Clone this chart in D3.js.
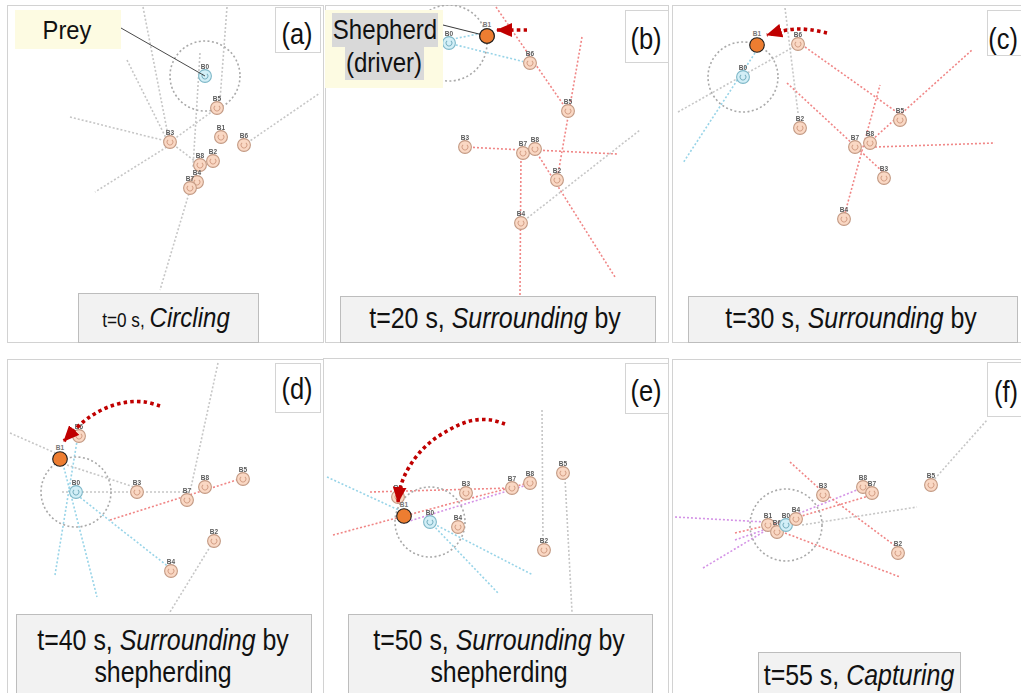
<!DOCTYPE html>
<html>
<head>
<meta charset="utf-8">
<script src="https://cdn.jsdelivr.net/npm/d3@7"></script>
<style>
  html, body { margin: 0; padding: 0; background: #ffffff; }
  svg { display: block; font-family: "Liberation Sans", Arial, sans-serif; }
</style>
</head>
<body>
<svg id="fig" width="1021" height="693"></svg>
<script>
// ---- snapshot metadata -------------------------------------------------
const panelIds = ["a", "b", "c", "d", "e", "f"];
const snapshotTimes = [0, 20, 30, 40, 50, 55];
const phaseNames = ["Circling", "Surrounding", "Surrounding", "Surrounding", "Surrounding", "Capturing"];
const phaseTails = ["", " by", " by", " by", " by", ""];
const phaseSecondLines = ["", "", "", "shepherding", "shepherding", ""];

// ---- robot poses per snapshot: [name, x, y, role] (arena units) -------
const robotsA = [
  ["B0", 198, 71, "prey"],
  ["B5", 210, 103, "hunter"], ["B3", 163, 137, "hunter"], ["B1", 214, 132, "hunter"],
  ["B6", 237, 140, "hunter"], ["B2", 206, 156, "hunter"], ["B8", 193, 160, "hunter"],
  ["B4", 190, 177, "hunter"], ["B7", 183, 183, "hunter"]
];
const robotsB = [
  ["B0", 124, 38, "prey"], ["B1", 162, 31, "shepherd"],
  ["B6", 205, 58, "hunter"], ["B5", 243, 106, "hunter"], ["B3", 140, 142, "hunter"],
  ["B7", 198, 148, "hunter"], ["B8", 210, 144, "hunter"], ["B2", 232, 175, "hunter"],
  ["B4", 196, 218, "hunter"]
];
const robotsC = [
  ["B0", 71, 72, "prey"], ["B1", 85, 40, "shepherd"],
  ["B6", 126, 39, "hunter"], ["B2", 128, 123, "hunter"], ["B5", 228, 115, "hunter"],
  ["B7", 183, 142, "hunter"], ["B8", 198, 138, "hunter"], ["B3", 212, 173, "hunter"],
  ["B4", 172, 214, "hunter"]
];
const robotsD = [
  ["B0", 69, 133, "prey"], ["B1", 53, 100, "shepherd"],
  ["B6", 72, 77, "hunter"], ["B3", 130, 133, "hunter"], ["B7", 180, 141, "hunter"],
  ["B8", 198, 128, "hunter"], ["B5", 236, 120, "hunter"], ["B2", 207, 182, "hunter"],
  ["B4", 164, 212, "hunter"]
];
const robotsE = [
  ["B0", 107, 164, "prey"], ["B6", 75, 139, "hunter"], ["B1", 81, 158, "shepherd"],
  ["B4", 135, 169, "hunter"], ["B3", 143, 135, "hunter"], ["B7", 189, 130, "hunter"],
  ["B8", 207, 125, "hunter"], ["B5", 240, 115, "hunter"], ["B2", 221, 192, "hunter"]
];
const robotsF = [
  ["B1", 96, 166, "hunter"], ["B6", 105, 173, "hunter"], ["B0", 114, 166, "prey"],
  ["B4", 124, 160, "hunter"], ["B3", 151, 136, "hunter"], ["B8", 191, 128, "hunter"],
  ["B7", 200, 134, "hunter"], ["B5", 259, 126, "hunter"], ["B2", 226, 194, "hunter"]
];

// ---- sensing / heading traces: [x1, y1, x2, y2, kind] ------------------
const tracesA = [
  [136, 2, 161, 130, "idle"], [120, 55, 160, 135, "idle"], [63, 112, 163, 137, "idle"],
  [163, 140, 88, 187, "idle"], [220, 2, 213, 95, "idle"], [193, 48, 186, 162, "idle"],
  [183, 185, 153, 285, "idle"], [237, 140, 313, 88, "idle"], [210, 103, 163, 137, "idle"],
  [163, 137, 193, 160, "idle"]
];
const tracesB = [
  [171, 2, 242, 105, "chase"], [257, 32, 232, 175, "chase"], [140, 142, 198, 145, "chase"],
  [210, 145, 292, 149, "chase"], [196, 148, 195, 290, "chase"], [210, 145, 290, 272, "chase"],
  [196, 218, 315, 125, "idle"], [123, 35, 158, 28, "flee"], [123, 38, 200, 57, "flee"]
];
const tracesC = [
  [113, 3, 126, 108, "idle"], [6, 107, 125, 40, "idle"], [83, 48, 11, 158, "flee"],
  [133, 42, 226, 108, "chase"], [200, 135, 300, 45, "chase"], [115, 78, 211, 167, "chase"],
  [203, 142, 323, 138, "chase"], [173, 208, 208, 80, "chase"]
];
const tracesD = [
  [3, 74, 53, 96, "idle"], [211, 4, 183, 133, "idle"], [55, 133, 183, 133, "idle"],
  [60, 106, 130, 129, "idle"], [206, 183, 163, 253, "idle"], [103, 161, 236, 119, "chase"],
  [71, 76, 48, 216, "flee"], [55, 101, 90, 238, "flee"], [70, 136, 163, 209, "flee"]
];
const tracesE = [
  [47, 134, 189, 130, "chase"], [10, 177, 205, 125, "chase"], [80, 165, 204, 127, "capture"],
  [4, 119, 80, 154, "flee"], [107, 164, 210, 217, "flee"], [107, 164, 175, 235, "flee"],
  [219, 52, 220, 187, "idle"], [242, 120, 249, 254, "idle"]
];
const tracesF = [
  [3, 158, 93, 163, "capture"], [31, 209, 98, 169, "capture"], [63, 181, 100, 168, "capture"],
  [123, 156, 190, 129, "capture"], [63, 174, 118, 161, "chase"], [118, 103, 151, 133, "chase"],
  [151, 133, 226, 189, "chase"], [123, 159, 200, 136, "chase"], [113, 174, 228, 218, "chase"],
  [130, 166, 245, 148, "idle"], [260, 123, 315, 61, "idle"]
];

// ---- shepherd manoeuvre paths (arena units), ending at arrow tip -------
const moveB = [[202, 25], [188, 25], [172, 25]];
const moveC = [[155, 28], [140, 25], [125, 24], [110, 26], [95, 30]];
const moveD = [[153, 47], [138, 43], [121, 43], [104, 47], [89, 54], [76, 63], [57, 82]];
const moveE = [[182, 66], [168, 62], [152, 62], [138, 66], [124, 73], [110, 82], [98, 93], [88, 106], [81, 119], [77, 131], [75, 144]];

// prey sensing radius per snapshot (arena units)
const sensingRadius = [35, 38, 35, 35, 35, 36];

const robotsBySnapshot = [robotsA, robotsB, robotsC, robotsD, robotsE, robotsF];
const tracesBySnapshot = [tracesA, tracesB, tracesC, tracesD, tracesE, tracesF];
const movesBySnapshot = [null, moveB, moveC, moveD, moveE, null];

// ---- layout -----------------------------------------------------------
const panelBoxes = [
  { x: 7, y: 5, w: 316, h: 337 }, { x: 325, y: 5, w: 343, h: 337 }, { x: 672, y: 5, w: 352, h: 337 },
  { x: 7, y: 359, w: 316, h: 340 }, { x: 323, y: 358, w: 345, h: 340 }, { x: 672, y: 359, w: 352, h: 340 }
];
const tagBoxes = [
  { x: 275, y: 7, w: 45, h: 45, tx: 297, ty: 44 },
  { x: 625, y: 10, w: 43, h: 52, tx: 646, ty: 49 },
  { x: 987, y: 10, w: 40, h: 45, tx: 1003, ty: 49 },
  { x: 275, y: 363, w: 45, h: 49, tx: 297, ty: 399 },
  { x: 625, y: 363, w: 43, h: 50, tx: 646, ty: 401 },
  { x: 987, y: 362, w: 40, h: 54, tx: 1006, ty: 402 }
];
const captionBoxes = [
  { x: 78, y: 293, w: 180, h: 49, cx: 166, by: 327 },
  { x: 340, y: 296, w: 315, h: 46, cx: 495, by: 328 },
  { x: 688, y: 296, w: 329, h: 46, cx: 851, by: 328 },
  { x: 16, y: 614, w: 295, h: 85, cx: 163, by: 650 },
  { x: 348, y: 614, w: 304, h: 85, cx: 499, by: 650 },
  { x: 758, y: 652, w: 202, h: 45, cx: 859, by: 685 }
];

const traceColor = { idle: "#c6c6c6", chase: "#f08686", flee: "#98d4e8", capture: "#d493e6" };
const squeeze = 0.86;

const svg = d3.select("#fig");
const defs = svg.append("defs");

defs.append("filter").attr("id", "soft")
  .append("feGaussianBlur").attr("stdDeviation", 0.35);

defs.append("marker")
  .attr("id", "head").attr("markerUnits", "userSpaceOnUse")
  .attr("viewBox", "0 0 16 14").attr("markerWidth", 16).attr("markerHeight", 14)
  .attr("refX", 15).attr("refY", 7).attr("orient", "auto")
  .append("path").attr("d", "M0,0 L16,7 L0,14 Z").attr("fill", "#c00000");

const moveLine = d3.line().curve(d3.curveCatmullRom.alpha(0.5));
const ringArc = d3.arc();

panelIds.forEach((id, i) => {
  const box = panelBoxes[i];
  const sx = d3.scaleLinear().domain([0, box.w]).range([box.x, box.x + box.w]);
  const sy = d3.scaleLinear().domain([0, box.h]).range([box.y, box.y + box.h]);
  const unit = sx(1) - sx(0);

  const panel = svg.append("g").attr("class", "panel panel-" + id);

  defs.append("clipPath").attr("id", "clip-" + id)
    .append("rect").attr("x", box.x).attr("y", box.y).attr("width", box.w).attr("height", box.h);

  panel.append("rect")
    .attr("x", box.x + 0.5).attr("y", box.y + 0.5)
    .attr("width", box.w).attr("height", box.h)
    .attr("fill", "#ffffff").attr("stroke", "#d2d2d2").attr("stroke-width", 1);

  const arena = panel.append("g").attr("clip-path", `url(#clip-${id})`);
  const sim = arena.append("g").attr("filter", "url(#soft)");

  // heading / sensing traces
  sim.selectAll("line.trace").data(tracesBySnapshot[i]).join("line")
    .attr("class", "trace")
    .attr("x1", d => sx(d[0])).attr("y1", d => sy(d[1]))
    .attr("x2", d => sx(d[2])).attr("y2", d => sy(d[3]))
    .attr("stroke", d => traceColor[d[4]])
    .attr("stroke-width", 1.6)
    .attr("stroke-dasharray", "2,2");

  // prey sensing ring
  const robots = robotsBySnapshot[i];
  const prey = robots.find(r => r[3] === "prey");
  sim.append("circle")
    .attr("cx", sx(prey[1])).attr("cy", sy(prey[2]))
    .attr("r", sensingRadius[i] * unit)
    .attr("fill", "none").attr("stroke", "#a9a9a9")
    .attr("stroke-width", 1.6).attr("stroke-dasharray", "2,2.4");

  // robots (shepherd drawn separately on top)
  const bots = sim.selectAll("g.bot").data(robots.filter(r => r[3] !== "shepherd")).join("g")
    .attr("class", "bot")
    .attr("transform", d => `translate(${sx(d[1])},${sy(d[2])})`);
  bots.append("circle").attr("r", 6.4)
    .attr("fill", d => d[3] === "prey" ? "#d3eff7" : "#fad8c4")
    .attr("stroke", d => d[3] === "prey" ? "#7fb8c8" : "#c39a84")
    .attr("stroke-width", 1.1);
  bots.append("path")
    .attr("d", ringArc({ innerRadius: 2.4, outerRadius: 3.3, startAngle: 0.7, endAngle: 2 * Math.PI - 0.7 }))
    .attr("fill", d => d[3] === "prey" ? "#6fa9ba" : "#d09a80");
  bots.append("text")
    .attr("y", -7.5).attr("text-anchor", "middle")
    .attr("font-size", 6.5).attr("font-weight", "bold")
    .attr("fill", "#5a5a5a")
    .text(d => d[0]);

  // shepherd (driver)
  const dogs = robots.filter(r => r[3] === "shepherd");
  const dogG = arena.selectAll("g.dog").data(dogs).join("g")
    .attr("class", "dog")
    .attr("transform", d => `translate(${sx(d[1])},${sy(d[2])})`);
  dogG.append("text")
    .attr("y", -9).attr("text-anchor", "middle")
    .attr("font-size", 6.5).attr("font-weight", "bold").attr("fill", "#777")
    .text(d => d[0]);
  dogG.append("circle").attr("r", 7.3)
    .attr("fill", "#ed7d31").attr("stroke", "#1e1e1e").attr("stroke-width", 1.1);

  // shepherd manoeuvre arrow
  const move = movesBySnapshot[i];
  if (move) {
    arena.append("path")
      .attr("d", moveLine(move.map(p => [sx(p[0]), sy(p[1])])))
      .attr("fill", "none").attr("stroke", "#c00000")
      .attr("stroke-width", 3.6).attr("stroke-dasharray", "3.5,3.2")
      .attr("marker-end", "url(#head)");
  }

  // callouts for the first two snapshots
  if (id === "a") {
    panel.append("line")
      .attr("x1", 121).attr("y1", 28).attr("x2", sx(prey[1])).attr("y2", sy(prey[2]))
      .attr("stroke", "#333").attr("stroke-width", 0.9);
    panel.append("rect").attr("x", 15).attr("y", 10).attr("width", 106).attr("height", 39)
      .attr("fill", "#fdfbe2");
    panel.append("text")
      .attr("transform", `translate(67,39) scale(0.95,1)`)
      .attr("text-anchor", "middle").attr("font-size", 25).attr("fill", "#111")
      .text("Prey");
  }
  if (id === "b") {
    const dog = dogs[0];
    panel.append("line")
      .attr("x1", 443).attr("y1", 25).attr("x2", sx(dog[1])).attr("y2", sy(dog[2]))
      .attr("stroke", "#222").attr("stroke-width", 0.9);
    panel.append("rect").attr("x", 325).attr("y", 10).attr("width", 118).attr("height", 78)
      .attr("fill", "#fdfbe2");
    panel.append("rect").attr("x", 332).attr("y", 13).attr("width", 106).attr("height", 34)
      .attr("fill", "#d9d9d9");
    panel.append("rect").attr("x", 345).attr("y", 47).attr("width", 79).attr("height", 33)
      .attr("fill", "#d9d9d9");
    panel.append("text")
      .attr("transform", `translate(385,39) scale(${squeeze},1)`)
      .attr("text-anchor", "middle").attr("font-size", 28).attr("fill", "#111")
      .text("Shepherd");
    panel.append("text")
      .attr("transform", `translate(384,72) scale(${squeeze},1)`)
      .attr("text-anchor", "middle").attr("font-size", 28).attr("fill", "#111")
      .text("(driver)");
    // shepherd drawn above the callout box
    panel.append("circle").attr("cx", sx(dog[1])).attr("cy", sy(dog[2])).attr("r", 7.3)
      .attr("fill", "#ed7d31").attr("stroke", "#1e1e1e").attr("stroke-width", 1.1);
  }

  // panel tag
  const tag = tagBoxes[i];
  panel.append("rect")
    .attr("x", tag.x + 0.5).attr("y", tag.y + 0.5).attr("width", tag.w).attr("height", tag.h)
    .attr("fill", "#ffffff").attr("stroke", "#d4d4d4");
  panel.append("text")
    .attr("transform", `translate(${tag.tx},${tag.ty}) scale(0.85,1)`)
    .attr("text-anchor", "middle").attr("font-size", 30).attr("fill", "#111")
    .text(`(${id})`);

  // caption
  const cap = captionBoxes[i];
  panel.append("rect")
    .attr("x", cap.x + 0.5).attr("y", cap.y + 0.5).attr("width", cap.w).attr("height", cap.h)
    .attr("fill", "#f2f2f2").attr("stroke", "#bdbdbd");
  const lead = i === 0 ? 20 : 29;
  const main = i === 0 ? 28 : 29;
  const t1 = panel.append("text")
    .attr("transform", `translate(${cap.cx},${cap.by}) scale(${squeeze},1)`)
    .attr("text-anchor", "middle").attr("fill", "#111");
  t1.append("tspan").attr("font-size", lead).text(`t=${snapshotTimes[i]} s, `);
  t1.append("tspan").attr("font-size", main).attr("font-style", "italic").text(phaseNames[i]);
  if (phaseTails[i]) t1.append("tspan").attr("font-size", main).text(phaseTails[i]);
  if (phaseSecondLines[i]) {
    panel.append("text")
      .attr("transform", `translate(${cap.cx},${cap.by + 32}) scale(${squeeze},1)`)
      .attr("text-anchor", "middle").attr("font-size", main).attr("fill", "#111")
      .text(phaseSecondLines[i]);
  }
});
</script>
</body>
</html>
